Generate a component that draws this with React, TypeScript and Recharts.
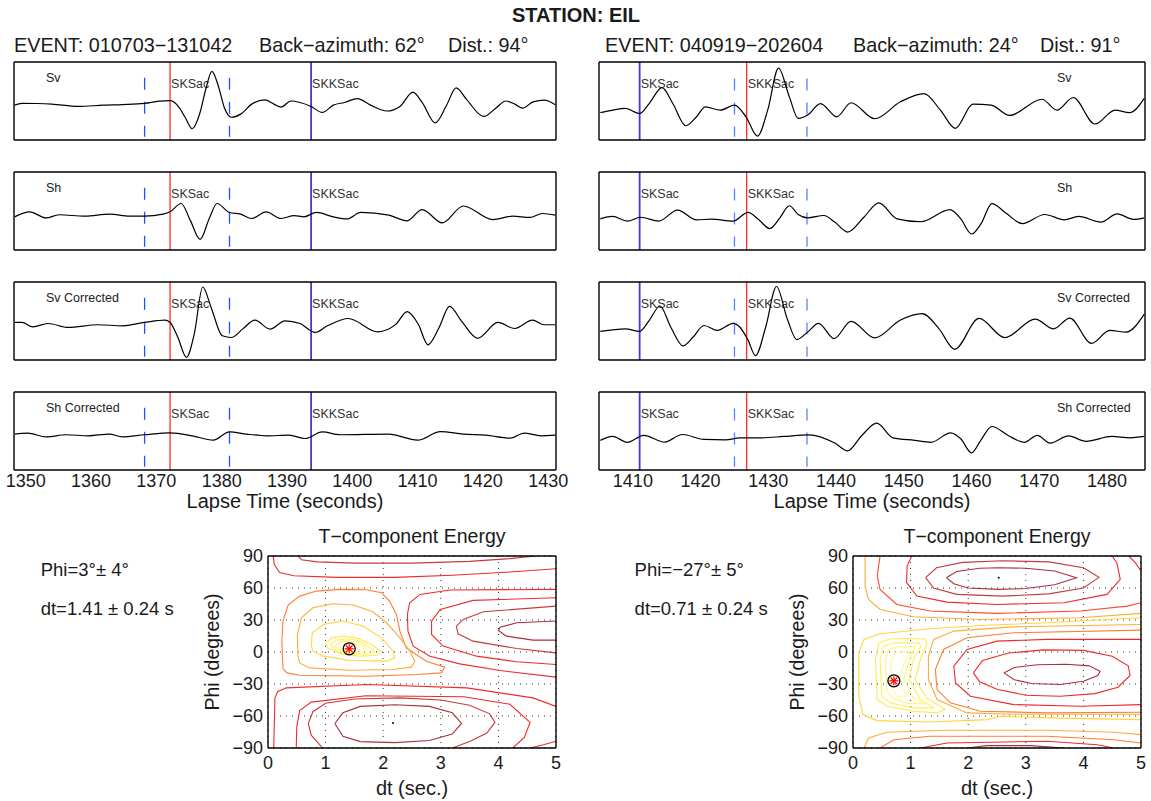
import React from 'react';
import { ComposedChart, LineChart, Line, XAxis, YAxis, ReferenceLine, ReferenceDot, CartesianGrid } from 'recharts';

type Pt = [number, number];

const FONT = '"Liberation Sans", Arial, Helvetica, sans-serif';
const INK = '#1a1a1a';

// ---------- waveform panels ----------
const ampTicks = [-1, 0, 1];
const traceNames = ['Sv', 'Sh', 'Sv Corrected', 'Sh Corrected'];
const phaseNames = ['SKSac', 'SKKSac'];

// event 010703-131042
const ev1Ticks = [1350, 1360, 1370, 1380, 1390, 1400, 1410, 1420, 1430];
const ev1Range: Pt = [1348.2, 1431.2];
const ev1Amp: Pt = [-1.67, 2.07];
const ev1Arrivals = [1372.1, 1393.7]; // SKSac, SKKSac
const ev1Window = [1368.2, 1381.2];
const ev1WindowAmp: Pt = [1.32, -1.52];

const ev1Sv: Pt[] = [
  [1348.3, 0], [1349.4, 0.09], [1351.7, 0.08], [1354, 0.05], [1358, -0.06], [1361.9, 0], [1364.8, 0.03],
  [1368.2, 0.09], [1370.4, 0.19], [1372.1, 0.22], [1373.3, -0.03], [1374.4, -0.58], [1375.5, -1.13],
  [1376.6, -0.45], [1377.6, 0.8], [1378.5, 1.62], [1379.5, 0.91], [1380.4, -0.11], [1381.5, -0.58],
  [1382.9, -0.43], [1384.6, 0.05], [1386.6, 0.25], [1388, 0.05], [1389.1, -0.09], [1390.6, 0.2],
  [1392, 0.13], [1393.7, -0.06], [1395.4, -0.35], [1397.1, 0], [1398.8, 0.13], [1400.8, 0.31],
  [1402.8, 0], [1405.3, -0.28], [1407.3, -0.06], [1409.3, 0.63], [1410.7, 0.13], [1412.7, -0.85],
  [1414.4, -0.03], [1415.9, 0.83], [1417.5, 0.28], [1420.1, -0.54], [1422.1, -0.11], [1423.5, 0.2],
  [1424.9, 0.05], [1426.1, -0.14], [1427.7, 0.16], [1429.4, 0.24], [1431.1, 0.02],
];
const ev1Sh: Pt[] = [
  [1348.3, -0.08], [1350.6, 0.16], [1353.1, -0.13], [1355.1, 0.02], [1359.1, -0.05], [1362.8, 0.05],
  [1365.9, -0.05], [1368.2, -0.05], [1371, 0.05], [1372.1, 0.16], [1373.8, 0.56], [1375.2, -0.25],
  [1376.7, -1.16], [1378.1, -0.16], [1379.3, 0.56], [1381.2, 0.13], [1382.9, 0.05], [1384.6, -0.16],
  [1386.8, 0.16], [1389.1, -0.16], [1391.1, -0.02], [1392.6, -0.08], [1394.5, 0.13], [1397.1, -0.08],
  [1399.2, -0.18], [1401.3, 0.13], [1405.6, 0], [1408.4, -0.27], [1410.7, 0.27], [1413.8, -0.37],
  [1417, 0.44], [1421.5, -0.21], [1424.6, -0.05], [1427.2, -0.11], [1429.1, 0.08], [1431.1, 0],
];
const ev1SvCor: Pt[] = [
  [1348.3, 0.13], [1349.4, 0.13], [1351.1, -0.08], [1353.4, 0.08], [1356.5, -0.11], [1361.1, 0.02],
  [1364.8, -0.03], [1368.2, 0.13], [1371.3, 0.24], [1372.1, 0.13], [1373.3, -0.59], [1374.6, -1.54],
  [1375.8, -0.43], [1377.1, 1.83], [1378.4, 0.84], [1380.1, -0.51], [1381.5, -0.59], [1383.2, -0.19],
  [1385.1, 0.24], [1387.4, -0.19], [1389.7, 0.21], [1392, 0.08], [1394.3, -0.35], [1396.2, -0.03],
  [1399.4, 0.32], [1403.9, -0.32], [1406.7, 0.05], [1408.4, 0.65], [1410.1, 0.05], [1411.6, -0.94],
  [1413.3, -0.11], [1414.9, 0.9], [1416.7, 0.21], [1419.2, -0.63], [1422.3, 0.13], [1424.9, -0.16],
  [1427.6, 0.24], [1429.4, 0.02], [1431.1, 0.02],
];
const ev1ShCor: Pt[] = [
  [1348.3, 0.05], [1350.3, 0.1], [1353.1, -0.08], [1356.2, 0.02], [1359.6, -0.03], [1362.8, 0.05],
  [1364.8, -0.08], [1368.2, 0.02], [1372.1, 0.11], [1375.5, -0.03], [1378.7, -0.24], [1381.2, 0.16],
  [1383.8, 0.05], [1386.9, -0.03], [1390.3, 0], [1392.8, -0.16], [1395.4, 0.16], [1398.2, 0.02],
  [1405.6, 0.05], [1410, -0.24], [1413.5, 0.17], [1417, 0.05], [1420.4, 0], [1424.3, -0.14],
  [1426.3, 0.1], [1428.9, -0.03], [1431.1, 0],
];

// event 040919-202604
const ev2Ticks = [1410, 1420, 1430, 1440, 1450, 1460, 1470, 1480];
const ev2Range: Pt = [1405.0, 1485.6];
const ev2Amp: Pt = [-1.6, 2.4];
const ev2Arrivals = [1411.0, 1426.8]; // SKSac, SKKSac
const ev2Window = [1425.0, 1435.7];
const ev2WindowAmp: Pt = [1.56, -1.43];

const ev2Sv: Pt[] = [
  [1405.2, -0.2], [1407, -0.07], [1408.9, 0.02], [1411, -0.24], [1412.4, 0.27], [1414.3, 1.09],
  [1415.9, 0.27], [1417.8, -0.87], [1419.4, -0.41], [1420.7, 0.1], [1422.9, -0.07], [1425, 0.19],
  [1426.7, -0.41], [1428.4, -1.4], [1429.9, -0.07], [1431.5, 2.09], [1433.1, 0.61], [1434.4, -0.49],
  [1435.8, -0.32], [1437.7, 0.27], [1440.1, -0.41], [1442.2, 0.31], [1445.7, -0.51], [1449.5, 0.36],
  [1453, 0.78], [1455.4, -0.07], [1457.6, -1.0], [1460.2, 0.24], [1462.9, 0.19], [1465.6, -0.34],
  [1470.4, 0.49], [1472.6, -0.07], [1475, 0.58], [1478.2, -0.78], [1481.2, -0.07], [1483.3, -0.2],
  [1485.5, 0.53],
];
const ev2Sh: Pt[] = [
  [1405.2, 0], [1407, 0.12], [1409.2, -0.12], [1411.1, 0.08], [1413.8, -0.12], [1416.6, 0.45],
  [1419.4, -0.05], [1421.6, -0.02], [1424.8, -0.12], [1427, 0.33], [1428.6, -0.05], [1430.2, -0.5],
  [1431.7, 0.05], [1433.1, 0.67], [1434.4, 0.22], [1435.8, 0.05], [1438.2, 0.17], [1439.8, -0.17],
  [1441.7, -0.68], [1444.1, 0.08], [1446.3, 0.82], [1449, 0], [1452.5, -0.15], [1456.8, 0.47],
  [1458.4, 0], [1460, -0.78], [1461.4, -0.25], [1463, 0.78], [1465.1, 0.28], [1467.5, -0.25],
  [1470.8, 0.22], [1473.7, -0.05], [1475.8, 0.12], [1479.1, -0.17], [1481.5, 0.25], [1483.9, -0.03],
  [1485.5, 0.05],
];
const ev2SvCor: Pt[] = [
  [1405.2, -0.13], [1408.9, 0], [1411, -0.13], [1412.4, 0.42], [1414, 1.17], [1415.6, 0.08],
  [1417.4, -0.88], [1418.9, -0.42], [1420.5, 0.17], [1422.5, -0.08], [1424.8, 0.28], [1425.8, 0.08],
  [1427, -0.58], [1428.1, -1.38], [1429.6, 0.08], [1431.2, 2.17], [1432.8, 0.5], [1434.2, -0.55],
  [1435.8, -0.17], [1437.4, 0.28], [1439.7, -0.5], [1442.2, 0.38], [1445.7, -0.47], [1449.5, 0.45],
  [1452.7, 0.78], [1455.2, 0], [1457.5, -1.05], [1461.1, 0.53], [1464.9, -0.45], [1469.4, 0.5],
  [1472.1, 0], [1474.5, 0.55], [1477.7, -0.75], [1480.4, -0.08], [1482.8, -0.17], [1485.5, 0.75],
];
const ev2ShCor: Pt[] = [
  [1405.2, -0.08], [1407, 0.12], [1409.2, -0.18], [1411.6, 0.18], [1414.7, -0.17], [1417.3, 0.22],
  [1420.5, -0.03], [1423.7, -0.05], [1425.8, 0.05], [1429, 0.05], [1432.3, 0.12], [1436, 0.2],
  [1439.8, -0.22], [1441.7, -0.62], [1443.8, 0.17], [1446, 0.8], [1448.4, 0.05], [1451.6, -0.08],
  [1454, -0.18], [1456.9, 0.3], [1458.4, 0], [1460, -0.72], [1461.4, -0.05], [1463, 0.63],
  [1465.4, 0.17], [1467.8, -0.18], [1469.7, 0.18], [1471.6, -0.22], [1474.3, 0.15], [1476.9, -0.13],
  [1480.7, 0.12], [1483.4, 0.05], [1485.5, 0.12],
];

// ---------- T-component energy contours ----------
const dtTicks = [0, 1, 2, 3, 4, 5];
const phiTicks = [-90, -60, -30, 0, 30, 60, 90];

// event 1 grid search: best (dt, phi) and energy maximum
const ev1Best: Pt = [1.41, 3];
const ev1Peak: Pt = [2.17, -66.5];
const ev1Contours: Pt[][] = [
  [[0.52, 90], [0.58, 86.5], [0.85, 84.5], [1.5, 83.3], [2.5, 83.3], [3.5, 85], [4.2, 87.5], [4.65, 90]],
  [[0.09, 90], [0.11, 82], [0.2, 74.5], [0.45, 71.5], [1.2, 70], [2.2, 70], [3.2, 72], [4.2, 75], [5, 78]],
  [[1.16, -67], [1.3, -57], [1.6, -51], [2.2, -49.5], [2.8, -51], [3.2, -57], [3.36, -67], [3.2, -77], [2.8, -83], [2.2, -85], [1.6, -84], [1.3, -79], [1.16, -67]],
  [[0.95, -90], [0.75, -78], [0.7, -67], [0.78, -56], [1.0, -48], [1.5, -44], [2.3, -43], [3.0, -45], [3.5, -50], [3.85, -58], [3.94, -66], [3.8, -76], [3.5, -84], [3.2, -90]],
  [[0.49, -90], [0.5, -70], [0.55, -55], [0.75, -47], [1.7, -41], [3.4, -42], [4.2, -49], [4.55, -66], [4.45, -80], [4.25, -90]],
  [[0.1, -90], [0.12, -43], [0.17, -37], [0.32, -33.6], [1.71, -30.5], [3.45, -33.6], [4.6, -43], [5, -51]],
  [[4.55, -90], [4.78, -87], [5, -83.7]],
  [[5, 29], [4.32, 27.4], [4.03, 23.3], [4.0, 20.2], [4.14, 14.9], [4.6, 11.1], [5, 11.1]],
  [[5, 43], [3.74, 37.7], [3.39, 30.5], [3.27, 24.3], [3.3, 17.1], [3.56, 10.2], [4.32, 3.3], [5, -0.8]],
  [[5, 50.9], [3.56, 48.4], [2.99, 39.9], [2.84, 29], [2.84, 16.4], [3.04, 5.5], [3.62, -3.9], [4.32, -9.2], [5, -11.7]],
  [[5, 58.7], [3.16, 58.1], [2.64, 54], [2.46, 46.2], [2.42, 35.2], [2.43, 19.6], [2.52, 5.5], [2.81, -3.9], [3.33, -11.1], [4.03, -17.4], [5, -23.6]],
  [[0.26, -15.5], [0.24, 10.2], [0.26, 29], [0.35, 44], [0.55, 52.4], [0.84, 57.1], [1.25, 58.7], [1.71, 58.4], [1.97, 55.6], [2.11, 47.7], [2.23, 35.2], [2.29, 19.6], [2.4, 3.9], [2.75, -8.6], [3.07, -14.2], [3.01, -19.6], [2.58, -21.1], [1.71, -22.7], [0.55, -21.8], [0.33, -19.6], [0.26, -15.5]],
  [[0.52, -3.9], [0.51, 16.4], [0.58, 32.1], [0.78, 41.5], [1.13, 45.2], [1.48, 44], [1.82, 37.7], [2.06, 27.4], [2.29, 13.3], [2.46, 0.8], [2.55, -8.6], [2.49, -14.2], [2.17, -16.4], [1.42, -17.1], [0.72, -14.9], [0.55, -10.2], [0.52, -3.9]],
  [[0.75, 6.4], [0.77, 18], [0.96, 25.8], [1.3, 29], [1.65, 24.3], [1.97, 13.3], [2.17, 0.8], [2.2, -5.5], [2.06, -8.6], [1.42, -8], [0.96, -3.9], [0.78, 0.8], [0.75, 6.4]],
  [[1.0, 8], [1.1, 13], [1.3, 15], [1.55, 13], [1.8, 7], [1.95, 1], [1.9, -3], [1.6, -4], [1.3, -2], [1.05, 3], [1.0, 8]],
  [[1.08, 7], [1.18, 11], [1.35, 12.5], [1.55, 11], [1.75, 5], [1.85, 0], [1.7, -2], [1.45, -2], [1.2, 1], [1.08, 7]],
  [[1.16, 6], [1.25, 9.5], [1.4, 10.5], [1.55, 9], [1.7, 4], [1.72, 1], [1.55, -0.5], [1.35, 0], [1.2, 3], [1.16, 6]],
  [[1.24, 5], [1.32, 8], [1.45, 8.5], [1.57, 6.5], [1.6, 3], [1.48, 1], [1.33, 2], [1.24, 5]],
];

// event 2 grid search
const ev2Best: Pt = [0.71, -27];
const ev2Peak: Pt = [2.53, 69.7];
const ev2Contours: Pt[][] = [
  [[1.62, 69.7], [1.8, 75.5], [2.2, 78.5], [2.53, 79], [3.0, 78.5], [3.5, 76], [3.88, 69.7], [3.5, 63], [3.0, 59.5], [2.53, 58.7], [2.0, 60], [1.75, 64], [1.62, 69.7]],
  [[1.26, 69.7], [1.45, 79], [1.9, 84], [2.6, 85.5], [3.4, 84.5], [4.0, 79], [4.27, 70], [4.0, 60], [3.4, 54.5], [2.6, 52.4], [1.8, 54], [1.4, 60], [1.26, 69.7]],
  [[1.02, 90], [0.94, 80.6], [0.93, 65], [1.11, 52.4], [1.63, 46.8], [2.5, 44.6], [3.66, 46.2], [4.41, 54], [4.64, 68.1], [4.58, 83.7], [4.5, 90]],
  [[4.79, 90], [4.9, 83.7], [5, 75.9]],
  [[0.47, 90], [0.42, 71.2], [0.47, 58.7], [0.76, 44.6], [1.34, 38.4], [2.5, 36.2], [3.95, 38.4], [4.76, 43], [5, 46.2]],
  [[0.21, 90], [0.21, 61.8], [0.27, 49.3], [0.47, 39.9], [1.05, 33], [2.21, 30.5], [3.95, 32.1], [5, 36.2]],
  [[2.62, -19.6], [2.8, -14.5], [3.2, -12], [3.7, -11.5], [4.1, -13], [4.29, -18], [4.25, -22], [4.0, -27.5], [3.6, -30.5], [3.1, -29.5], [2.8, -26], [2.62, -19.6]],
  [[2.09, -19.6], [2.25, -8], [2.7, -1], [3.3, 2], [4.0, 1.5], [4.5, -4], [4.78, -13], [4.81, -22], [4.6, -33], [4.2, -39], [3.6, -41.5], [3.0, -40.5], [2.5, -35], [2.2, -28], [2.09, -19.6]],
  [[5, 11.8], [3.37, 11.8], [2.5, 10.2], [1.98, 2.4], [1.75, -13.3], [1.78, -29], [2.04, -41.5], [2.79, -49.3], [3.95, -50.9], [5, -49.3]],
  [[5, 20.5], [2.79, 18], [1.98, 13.3], [1.57, 2.4], [1.43, -16.4], [1.46, -35.2], [1.69, -47.7], [2.21, -55.5], [3.37, -57.1], [5, -56.5]],
  [[5, 25.8], [2.79, 23.6], [1.75, 19.6], [1.4, 11.8], [1.31, -3.9], [1.31, -25.8], [1.46, -44.6], [1.98, -57.1], [2.79, -58.4], [5, -58.3]],
  [[5, 32.1], [3.37, 27.4], [2.21, 24.9], [1.34, 21.8], [0.47, 17.1], [0.19, 11.8], [0.1, -0.8], [0.1, -41.5], [0.17, -58.7], [0.42, -64.3], [1.34, -65.6], [2.33, -63.4], [2.56, -60.2], [3.37, -61.8], [5, -63.4]],
  [[0.42, -44.6], [0.39, -7], [0.45, 8.6], [0.65, 12.4], [1.25, 12.4], [1.28, 7], [1.17, -7], [1.08, -25.8], [1.28, -43], [1.6, -54], [1.45, -57.1], [1.05, -55.5], [0.59, -50.9], [0.42, -44.6]],
  [[0.5, -41.5], [0.47, -7], [0.53, 5.5], [0.71, 8.6], [1.15, 8.6], [1.18, 5.5], [1.05, -7], [0.97, -25.8], [1.17, -44.6], [1.4, -52.4], [1.05, -52.4], [0.65, -47.7], [0.5, -41.5]],
  [[0.59, -36.8], [0.56, -8.6], [0.62, 2.4], [0.76, 4.9], [1.08, 4.9], [0.97, -8.6], [0.88, -25.8], [1.05, -43], [1.23, -48.4], [0.94, -48.4], [0.68, -43], [0.59, -36.8]],
  [[0.68, -32.1], [0.65, -10.2], [0.73, -0.8], [1.0, 0.8], [0.88, -11.7], [0.79, -29], [0.94, -41.5], [0.76, -41.5], [0.68, -32.1]],
  [[0.19, -90], [0.27, -80.6], [0.59, -75.3], [1.63, -73.4], [3.37, -73.4], [4.53, -75.3], [5, -77.5]],
  [[0.47, -90], [0.71, -82.2], [1.34, -79], [3.37, -79], [4.53, -82.2], [5, -85.3]],
  [[1.17, -90], [1.63, -85.3], [3.37, -83.7], [4.24, -86.9], [4.53, -90]],
  [[1.98, -90], [2.33, -87.8], [3.08, -87.8], [3.66, -90]],
];

// contour colours (same order as the contour lists)
const MAROON = '#a8303c', BROWN = '#c63a3c', RED = '#f02a2a', REDOR = '#ff4a2a', ORANGE = '#ff7e30',
  LORANGE = '#ffac3c', YELLOW = '#ffd43a', Y1 = '#ffe84c', Y2 = '#fff062', Y3 = '#fff47e', Y4 = '#fff894';
const ev1Colors = [BROWN, RED, MAROON, BROWN, RED, RED, RED, MAROON, BROWN, RED, RED, ORANGE, LORANGE, YELLOW, Y1, Y2, Y3, Y4];
const ev2Colors = [MAROON, BROWN, RED, RED, REDOR, LORANGE, MAROON, RED, RED, ORANGE, LORANGE, YELLOW, Y1, Y2, Y3, Y4, LORANGE, ORANGE, RED, MAROON];

// ---------- layout ----------
const columns = [
  { left: 14, width: 542, range: ev1Range, ticks: ev1Ticks, amp: ev1Amp, arrivals: ev1Arrivals, analysed: 0, win: ev1Window, winAmp: ev1WindowAmp, winColor: '#2050ff', nameX: 46, traces: [ev1Sv, ev1Sh, ev1SvCor, ev1ShCor] },
  { left: 599, width: 546, range: ev2Range, ticks: ev2Ticks, amp: ev2Amp, arrivals: ev2Arrivals, analysed: 1, win: ev2Window, winAmp: ev2WindowAmp, winColor: '#5a80ff', nameX: 1057, traces: [ev2Sv, ev2Sh, ev2SvCor, ev2ShCor] },
];
const panelTops = [62, 172, 282, 392];
const PANEL_H = 78;

function Txt({ x, y, size = 18, anchor = 'start', bold = false, rotate = 0, children }: any) {
  const tx = anchor === 'middle' ? '-50%' : anchor === 'end' ? '-100%' : '0';
  return (
    <div
      style={{
        position: 'absolute', left: x, top: y, whiteSpace: 'pre', lineHeight: 1,
        transform: `translate(${tx}, -50%)${rotate ? ` rotate(${rotate}deg)` : ''}`,
        fontSize: size, fontWeight: bold ? 700 : 400, fontFamily: FONT, color: INK,
      }}
    >
      {children}
    </div>
  );
}

const phaseLabel = (txt: string) => (props: any) => {
  const vb = props.viewBox || {};
  return (
    <text x={(vb.x || 0) + 1} y={(vb.y || 0) + 26} fontSize={12.5} fill="#333" fontFamily={FONT}>
      {txt}
    </text>
  );
};

const boxLine = { stroke: '#000', strokeWidth: 1.4 };

function Panel({ col, data, name, top, last }: any) {
  const padX = 30, padY = 2;
  const axisH = last ? 26 : 0;
  const rows = data.map(([t, a]: Pt) => ({ t, a }));
  const common = { dataKey: 't', type: 'number' as const, domain: col.range, allowDataOverflow: true, ticks: col.ticks, interval: 0 as const };
  const yCommon = { type: 'number' as const, domain: col.amp, allowDataOverflow: true, ticks: ampTicks, interval: 0 as const };
  return (
    <div style={{ position: 'absolute', left: col.left - padX, top: top - padY }}>
      <LineChart width={col.width + 2 * padX} height={PANEL_H + 2 * padY + axisH} data={rows} margin={{ top: padY, right: padX, bottom: padY, left: padX }}>
        <XAxis xAxisId="x" {...common} hide={!last} height={axisH || 30} axisLine={false} tickLine={false} tickSize={0} tickMargin={4.5}
          tick={{ fontSize: 18, fill: INK, fontFamily: FONT }} />
        <XAxis xAxisId="xb" {...common} orientation="bottom" mirror tick={false} tickSize={5} axisLine={boxLine} tickLine={{ stroke: '#000' }} />
        <XAxis xAxisId="xt" {...common} orientation="top" mirror tick={false} tickSize={5} axisLine={boxLine} tickLine={{ stroke: '#000' }} />
        <YAxis yAxisId="y" {...yCommon} orientation="left" mirror tick={false} tickSize={5} axisLine={boxLine} tickLine={{ stroke: '#000' }} />
        <YAxis yAxisId="yr" {...yCommon} orientation="right" mirror tick={false} tickSize={5} axisLine={boxLine} tickLine={{ stroke: '#000' }} />
        {col.win.map((w: number, i: number) => (
          <ReferenceLine key={'w' + i} xAxisId="x" yAxisId="y" segment={[{ x: w, y: col.winAmp[0] }, { x: w, y: col.winAmp[1] }]}
            stroke={col.winColor} strokeWidth={1.3} strokeDasharray="12 12" />
        ))}
        {col.arrivals.map((t: number, i: number) => (
          <ReferenceLine key={'p' + i} xAxisId="x" yAxisId="y" x={t}
            stroke={i === col.analysed ? '#ff1a1a' : '#4b34cf'} strokeWidth={i === col.analysed ? 1.2 : 1.8}
            label={phaseLabel(phaseNames[i])} />
        ))}
        <Line xAxisId="x" yAxisId="y" dataKey="a" type="monotone" stroke="#000" strokeWidth={1.2} dot={false} isAnimationActive={false} />
      </LineChart>
      <div style={{ position: 'absolute', left: col.nameX - col.left + padX, top: padY + 15.5, transform: 'translateY(-50%)', fontSize: 12.5, fontFamily: FONT, color: '#222', whiteSpace: 'pre', lineHeight: 1 }}>
        {name}
      </div>
    </div>
  );
}

const fmtPhi = (v: number) => (v < 0 ? `\u2212${-v}` : `${v}`);

const BestMarker = (props: any) => {
  const { cx, cy } = props;
  const s = 4.6, d = 3.3;
  const red = { stroke: '#ff0000', strokeWidth: 1.2 };
  return (
    <g>
      <line x1={cx - s} y1={cy} x2={cx + s} y2={cy} {...red} />
      <line x1={cx} y1={cy - s} x2={cx} y2={cy + s} {...red} />
      <line x1={cx - d} y1={cy - d} x2={cx + d} y2={cy + d} {...red} />
      <line x1={cx - d} y1={cy + d} x2={cx + d} y2={cy - d} {...red} />
      <circle cx={cx} cy={cy} r={6} fill="none" stroke="#000" strokeWidth={1.3} />
    </g>
  );
};

function ContourPlot({ left, top, contours, colors, best, peak }: any) {
  const W = 288, H = 192, padT = 14, padR = 16, padB = 2, padL = 2, yw = 45, xh = 40;
  const xc = { dataKey: 'd', type: 'number' as const, domain: [0, 5], allowDataOverflow: true, ticks: dtTicks, interval: 0 as const };
  const yc = { type: 'number' as const, domain: [-90, 90], allowDataOverflow: true, ticks: phiTicks, interval: 0 as const };
  const tickFont = { fontSize: 18, fill: INK, fontFamily: FONT };
  return (
    <div style={{ position: 'absolute', left: left - padL - yw, top: top - padT }}>
      <ComposedChart width={W + padL + padR + yw} height={H + padT + padB + xh} margin={{ top: padT, right: padR, bottom: padB, left: padL }}>
        <XAxis xAxisId="x" {...xc} height={xh} axisLine={false} tickLine={false} tickSize={0} tickMargin={8.5} tick={tickFont} />
        <YAxis yAxisId="y" {...yc} width={yw} axisLine={false} tickLine={false} tickSize={0} tickMargin={5} tick={tickFont} tickFormatter={fmtPhi} />
        <XAxis xAxisId="xb" {...xc} orientation="bottom" mirror tick={false} tickSize={3} axisLine={boxLine} tickLine={{ stroke: '#000' }} />
        <XAxis xAxisId="xt" {...xc} orientation="top" mirror tick={false} tickSize={3} axisLine={boxLine} tickLine={{ stroke: '#000' }} />
        <YAxis yAxisId="yl" {...yc} orientation="left" mirror tick={false} tickSize={3} axisLine={boxLine} tickLine={{ stroke: '#000' }} />
        <YAxis yAxisId="yr" {...yc} orientation="right" mirror tick={false} tickSize={3} axisLine={boxLine} tickLine={{ stroke: '#000' }} />
        <CartesianGrid xAxisId="x" yAxisId="y" stroke="#333" strokeDasharray="1 5" />
        {contours.map((pts: Pt[], i: number) => (
          <Line key={i} xAxisId="x" yAxisId="y" data={pts.map(([d, p]) => ({ d, p }))} dataKey="p" type="linear"
            stroke={colors[i]} strokeWidth={1.1} dot={false} isAnimationActive={false} />
        ))}
        <ReferenceDot xAxisId="x" yAxisId="y" x={peak[0]} y={peak[1]} r={1} fill="#000" stroke="none" />
        <ReferenceDot xAxisId="x" yAxisId="y" x={best[0]} y={best[1]} r={6} shape={BestMarker} />
      </ComposedChart>
    </div>
  );
}

export default function App() {
  return (
    <div style={{ position: 'absolute', left: 0, top: 0, width: 1151, height: 801, background: '#fff', overflow: 'hidden', fontFamily: FONT }}>
      <Txt x={576} y={15} size={20} anchor="middle" bold>STATION: EIL</Txt>

      <Txt x={14} y={46} size={19.8}>EVENT: 010703−131042</Txt>
      <Txt x={259} y={46} size={19.8}>Back−azimuth: 62°</Txt>
      <Txt x={448} y={46} size={19.8}>Dist.: 94°</Txt>
      <Txt x={605} y={46} size={19.8}>EVENT: 040919−202604</Txt>
      <Txt x={853} y={46} size={19.8}>Back−azimuth: 24°</Txt>
      <Txt x={1040} y={46} size={19.8}>Dist.: 91°</Txt>

      {columns.map((col, c) =>
        traceNames.map((nm, i) => (
          <Panel key={c + '-' + i} col={col} data={col.traces[i]} name={nm} top={panelTops[i]} last={i === traceNames.length - 1} />
        ))
      )}

      <Txt x={285} y={501} size={20} anchor="middle">Lapse Time (seconds)</Txt>
      <Txt x={872} y={501} size={20} anchor="middle">Lapse Time (seconds)</Txt>

      <Txt x={40.7} y={570} size={18.5}>Phi=3°± 4°</Txt>
      <Txt x={40.7} y={609} size={18.5}>dt=1.41 ± 0.24 s</Txt>
      <Txt x={634.6} y={570} size={18.5}>Phi=−27°± 5°</Txt>
      <Txt x={634.6} y={609} size={18.5}>dt=0.71 ± 0.24 s</Txt>

      <Txt x={412} y={536.5} size={19.5} anchor="middle">T−component Energy</Txt>
      <Txt x={997} y={536.5} size={19.5} anchor="middle">T−component Energy</Txt>

      <ContourPlot left={268} top={556} contours={ev1Contours} colors={ev1Colors} best={ev1Best} peak={ev1Peak} />
      <ContourPlot left={853} top={556} contours={ev2Contours} colors={ev2Colors} best={ev2Best} peak={ev2Peak} />

      <Txt x={213} y={652} size={19.5} anchor="middle" rotate={-90}>Phi (degrees)</Txt>
      <Txt x={798} y={652} size={19.5} anchor="middle" rotate={-90}>Phi (degrees)</Txt>
      <Txt x={412} y={788} size={20} anchor="middle">dt (sec.)</Txt>
      <Txt x={997} y={788} size={20} anchor="middle">dt (sec.)</Txt>
    </div>
  );
}
